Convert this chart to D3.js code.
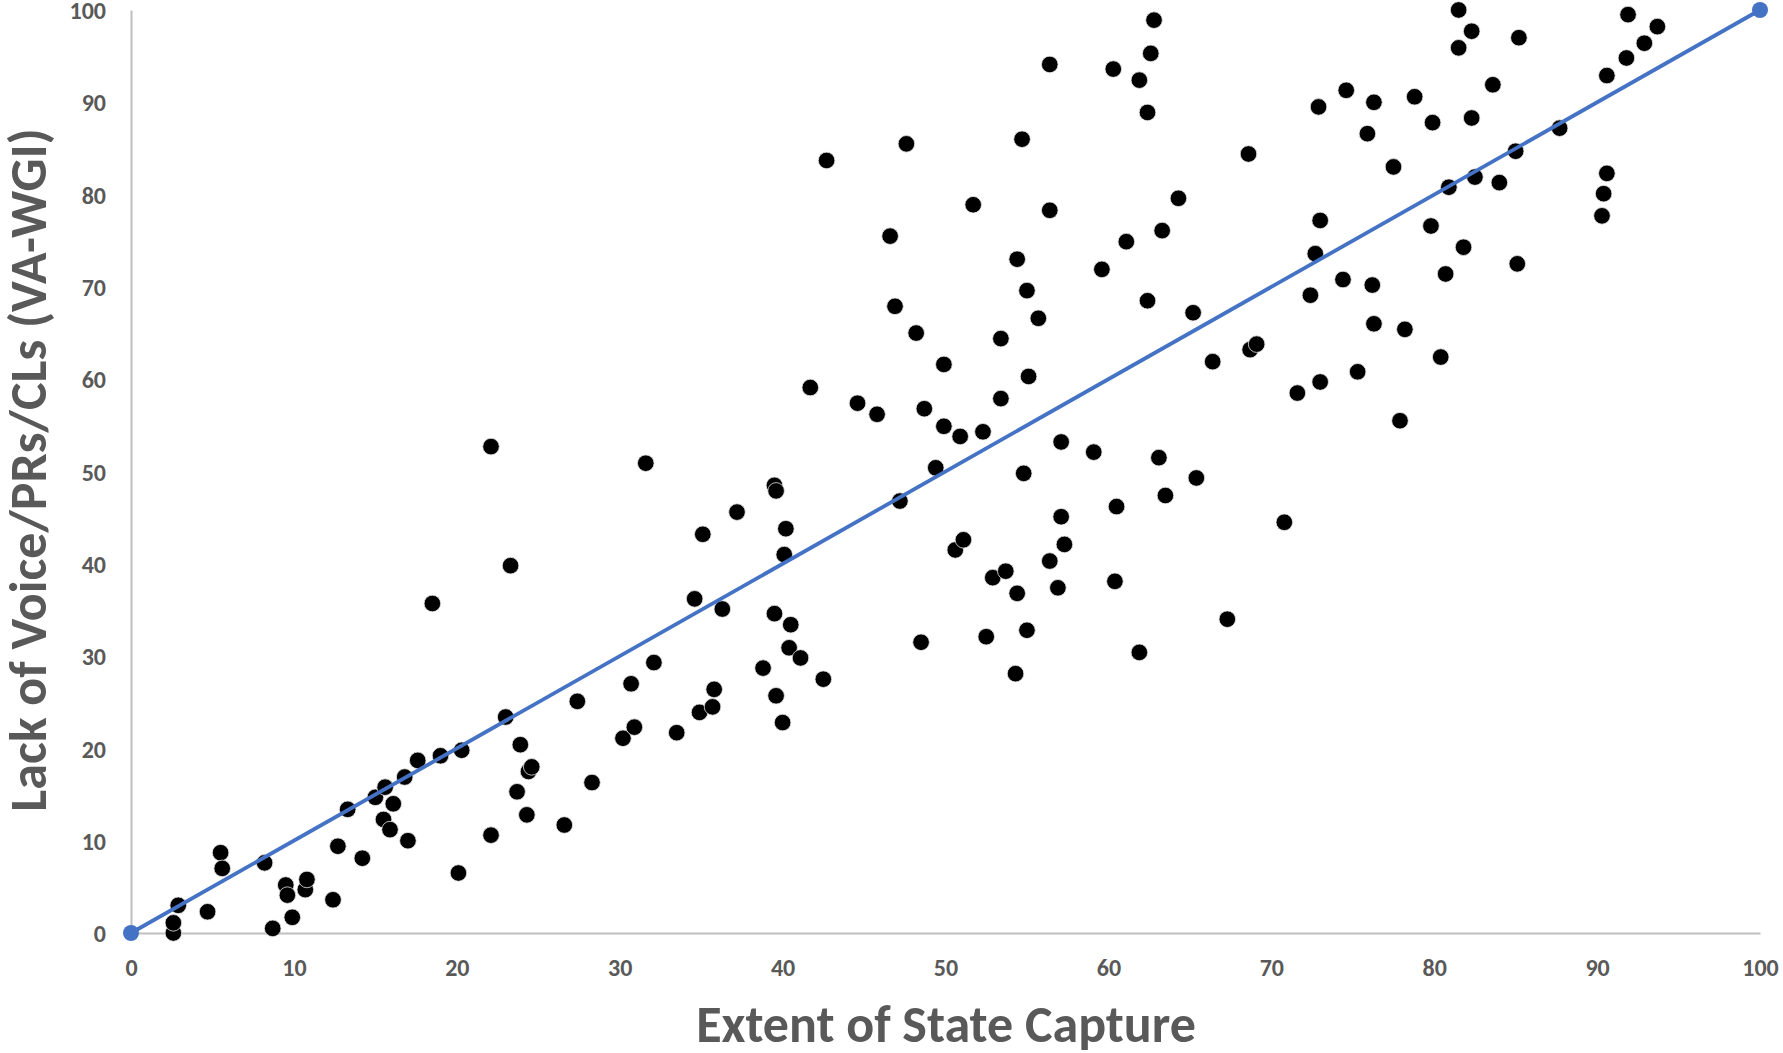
<!DOCTYPE html>
<html>
<head>
<meta charset="utf-8">
<script src="https://cdn.jsdelivr.net/npm/d3@7"></script>
<style>
  html, body { margin: 0; padding: 0; background: #fff; }
  svg { display: block; }
  text { font-family: Calibri, Carlito, Lato, "Open Sans", sans-serif; font-weight: 700; fill: #595959; }
</style>
</head>
<body>
<svg id="chart" width="1783" height="1053"></svg>
<script>
// Extent of State Capture (x) vs Lack of Voice/PRs/CLs (y)
const stateCapture = [
  2.6, 2.6, 2.9, 4.7, 5.5, 5.6, 8.2, 8.7, 9.5, 9.6,
  9.9, 10.7, 10.8, 12.4, 12.7, 13.3, 14.2, 15.0, 15.5, 15.6,
  15.9, 16.1, 16.8, 17.0, 17.6, 18.5, 19.0, 20.1, 20.3, 22.1,
  22.1, 23.0, 23.3, 23.7, 23.9, 24.3, 24.4, 24.6, 26.6, 27.4,
  28.3, 30.2, 30.7, 30.9, 31.6, 32.1, 33.5, 34.6, 34.9, 35.1,
  35.7, 35.8, 36.3, 37.2, 38.8, 39.5, 39.6, 39.5, 39.6, 40.1,
  40.0, 40.2, 40.4, 40.5, 41.1, 41.7, 42.5, 42.7, 44.6, 45.8,
  46.6, 46.9, 47.2, 47.6, 48.2, 48.5, 48.7, 49.4, 49.9, 49.9,
  50.6, 50.9, 51.1, 51.7, 52.3, 52.5, 52.9, 53.4, 53.4, 53.7,
  54.3, 54.4, 54.4, 54.7, 54.8, 55.0, 55.1, 55.0, 55.7, 56.4,
  56.4, 56.4, 56.9, 57.1, 57.1, 57.3, 59.1, 59.6, 60.3, 60.4,
  60.5, 61.1, 61.9, 61.9, 62.4, 62.4, 62.6, 62.8, 63.1, 63.3,
  63.5, 64.3, 65.2, 65.4, 66.4, 67.3, 68.6, 68.7, 69.1, 70.8,
  71.6, 72.4, 72.7, 72.9, 73.0, 73.0, 74.4, 74.6, 75.3, 75.9,
  76.2, 76.3, 76.3, 77.5, 77.9, 78.2, 78.8, 79.8, 79.9, 80.4,
  80.7, 80.9, 81.5, 81.5, 81.8, 82.3, 82.3, 82.5, 83.6, 84.0,
  85.0, 85.1, 85.2, 87.7, 90.6, 90.4, 90.3, 90.6, 91.8, 91.9,
  92.9, 93.7
];
const lackOfVoice = [
  0.0, 1.1, 3.0, 2.3, 8.7, 7.0, 7.6, 0.5, 5.2, 4.1,
  1.7, 4.7, 5.8, 3.6, 9.4, 13.4, 8.1, 14.7, 12.3, 15.8,
  11.2, 14.0, 16.9, 10.0, 18.7, 35.7, 19.2, 6.5, 19.8, 52.7,
  10.6, 23.4, 39.8, 15.3, 20.4, 12.8, 17.5, 18.0, 11.7, 25.1,
  16.3, 21.1, 27.0, 22.3, 50.9, 29.3, 21.7, 36.2, 23.9, 43.2,
  24.5, 26.4, 35.1, 45.6, 28.7, 48.5, 47.9, 34.6, 25.7, 41.0,
  22.8, 43.8, 30.9, 33.4, 29.8, 59.1, 27.5, 83.7, 57.4, 56.2,
  75.5, 67.9, 46.8, 85.5, 65.0, 31.5, 56.8, 50.4, 61.6, 54.9,
  41.5, 53.8, 42.6, 78.9, 54.3, 32.1, 38.5, 57.9, 64.4, 39.2,
  28.1, 73.0, 36.8, 86.0, 49.8, 69.6, 60.3, 32.8, 66.6, 40.3,
  78.3, 94.1, 37.4, 53.2, 45.1, 42.1, 52.1, 71.9, 93.6, 38.1,
  46.2, 74.9, 92.4, 30.4, 88.9, 68.5, 95.3, 98.9, 51.5, 76.1,
  47.4, 79.6, 67.2, 49.3, 61.9, 34.0, 84.4, 63.2, 63.8, 44.5,
  58.5, 69.1, 73.6, 89.5, 77.2, 59.7, 70.8, 91.3, 60.8, 86.6,
  70.2, 90.0, 66.0, 83.0, 55.5, 65.4, 90.6, 76.6, 87.8, 62.4,
  71.4, 80.8, 100.0, 95.9, 74.3, 97.7, 88.3, 81.9, 91.9, 81.3,
  84.7, 72.5, 97.0, 87.2, 82.3, 80.1, 77.7, 92.9, 94.8, 99.5,
  96.4, 98.2
];
const lineX = [0, 100];
const lineY = [0, 100];
const xTicks = [0, 10, 20, 30, 40, 50, 60, 70, 80, 90, 100];
const yTicks = [0, 10, 20, 30, 40, 50, 60, 70, 80, 90, 100];
const xTitle = "Extent of State Capture";
const yTitle = "Lack of Voice/PRs/CLs (VA-WGI)";

const svg = d3.select("#chart");
const mLeft = 131, mRight = 1760, mTop = 10, mBottom = 933;

const x = d3.scaleLinear().domain([0, 100]).range([mLeft, mRight]);
const y = d3.scaleLinear().domain([0, 100]).range([mBottom, mTop]);

// axes
const xAxis = d3.axisBottom(x).tickValues(xTicks).tickSize(0).tickPadding(26);
const yAxis = d3.axisLeft(y).tickValues(yTicks).tickSize(0).tickPadding(25);

const gx = svg.append("g").attr("transform", `translate(0,${mBottom})`).call(xAxis);
const gy = svg.append("g").attr("transform", `translate(${mLeft},0)`).call(yAxis);
[gx, gy].forEach(g => {
  g.select(".domain").attr("stroke", "#bfbfbf").attr("stroke-width", 2);
  g.selectAll("text").attr("font-size", 24).attr("fill", "#595959")
   .attr("font-family", "Calibri, Carlito, Lato, 'Open Sans', sans-serif").attr("font-weight", 700);
});
gx.selectAll("text").attr("dy", "0.71em");
gy.selectAll("text").attr("dy", "0.36em");

// points
const pts = stateCapture.map((v, i) => ({ x: v, y: lackOfVoice[i] }));
svg.append("g").selectAll("circle").data(pts).join("circle")
  .attr("cx", d => x(d.x)).attr("cy", d => y(d.y)).attr("r", 8.3)
  .attr("fill", "#000").attr("stroke", "#e6e6e6").attr("stroke-width", 0.8);

// reference line
const lineData = lineX.map((v, i) => ({ x: v, y: lineY[i] }));
svg.append("path").datum(lineData)
  .attr("d", d3.line().x(d => x(d.x)).y(d => y(d.y)))
  .attr("fill", "none").attr("stroke", "#4472c4").attr("stroke-width", 3.8);
svg.append("g").selectAll("circle").data(lineData).join("circle")
  .attr("cx", d => x(d.x)).attr("cy", d => y(d.y)).attr("r", 8)
  .attr("fill", "#4472c4");

// titles
svg.append("text").attr("x", 946).attr("y", 1042).attr("text-anchor", "middle")
  .attr("font-size", 52).text(xTitle);
svg.append("text").attr("transform", `translate(46,470) rotate(-90)`)
  .attr("text-anchor", "middle").attr("font-size", 52).text(yTitle);
</script>
</body>
</html>
